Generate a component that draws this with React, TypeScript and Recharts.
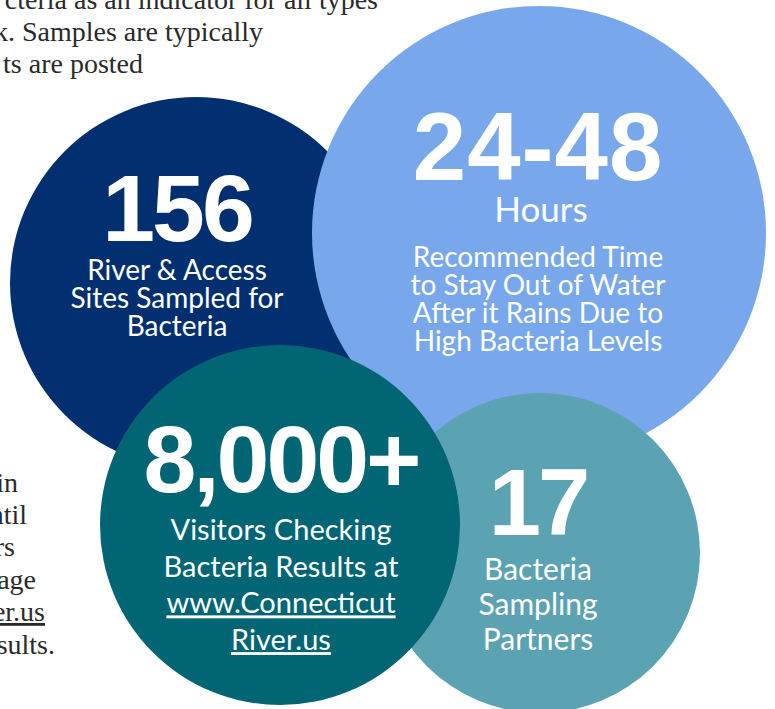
import React from 'react';
import { ScatterChart, Scatter, XAxis, YAxis } from 'recharts';

// bubble stats, in drawing order (back to front)
const stats = ['156', '24-48', '17', '8,000+'];
const units = ['', 'Hours', '', ''];
const captions = [
  ['River & Access', 'Sites Sampled for', 'Bacteria'],
  ['Recommended Time', 'to Stay Out of Water', 'After it Rains Due to', 'High Bacteria Levels'],
  ['Bacteria', 'Sampling', 'Partners'],
  ['Visitors Checking', 'Bacteria Results at', 'www.Connecticut', 'River.us'],
];
const bubbleX = [196, 539, 540, 280];
const bubbleY = [283, 233, 553, 525];
const bubbleR = [186, 227, 160, 180];
const bubbleColors = ['#022f6f', '#78a8eb', '#5ba2b3', '#016574'];
const linkLines = ['www.Connecticut', 'River.us'];

// body copy running behind the bubbles (cut off at the page edge)
const bodyLines = ['cteria as an indicator for all types', 'k. Samples are typically', 'ts are posted',
  'in', 'ntil', 'rs', 'age', 'er.us', 'sults.'];
const bodyEndX = [378, 263, 143, 18, 27, 15, 36, 45, 55];
const bodyBaseY = [9, 41, 73, 492, 524, 556, 589, 621, 654];

// text placement inside each bubble, relative to its centre
const layout = [
  { dx: -19, numY: -42, numSize: 95, numSpacing: -3, capY: -3, capSize: 28, lineH: 28 },
  { dx: -1, numY: -53, numSize: 96, numSpacing: 1, unitY: -11, capY: 34, capSize: 28, lineH: 28 },
  { dx: -2, numY: -18, numSize: 94, numSpacing: -3, capY: 27, capSize: 30, lineH: 35 },
  { dx: 1, numY: -33, numSize: 95, numSpacing: -3, capY: 15, capSize: 29, lineH: 36.7 },
];

const bubbles = stats.map((s, i) => ({
  x: bubbleX[i], y: bubbleY[i], r: bubbleR[i], stat: s, unit: units[i],
  lines: captions[i], color: bubbleColors[i], idx: i,
}));

const body = bodyLines.map((t, i) => ({ x: bodyEndX[i], y: bodyBaseY[i], text: t }));

const capFont = 'Lato, "Open Sans", sans-serif';
const numFont = '"Liberation Sans", Arial, sans-serif';

const renderBubble = (props: any) => {
  const { cx, cy, payload } = props;
  const l = layout[payload.idx];
  const tx = cx + l.dx;
  return (
    <g>
      <circle cx={cx} cy={cy} r={payload.r} fill={payload.color} />
      <text x={tx} y={cy + l.numY} textAnchor="middle" fill="#fff" fontFamily={numFont}
        fontWeight={700} fontSize={l.numSize} letterSpacing={l.numSpacing}>
        {payload.stat}
      </text>
      {payload.unit && (
        <text x={tx + 3} y={cy + l.unitY} textAnchor="middle" fill="#fff" fontFamily={capFont}
          fontSize={35}>
          {payload.unit}
        </text>
      )}
      {payload.lines.map((line: string, j: number) => (
        <text key={j} x={tx} y={cy + l.capY + j * l.lineH} textAnchor="middle" fill="#fff"
          fontFamily={capFont} fontSize={l.capSize}
          style={linkLines.includes(line) ? { textDecoration: 'underline' } : undefined}>
          {line}
        </text>
      ))}
    </g>
  );
};

const renderBody = (props: any) => {
  const { cx, cy, payload } = props;
  return (
    <text x={cx} y={cy} textAnchor="end" fill="#2a2a2a" fontFamily='"Liberation Serif", serif'
      fontSize={28} style={payload.text === 'er.us' ? { textDecoration: 'underline' } : undefined}>
      {payload.text}
    </text>
  );
};

export default function App() {
  return (
    <div style={{ position: 'absolute', left: 0, top: 0, width: 775, height: 709, overflow: 'hidden', background: '#fff' }}>
      <ScatterChart width={775} height={709} margin={{ top: 0, right: 0, bottom: 0, left: 0 }}>
        <XAxis type="number" dataKey="x" domain={[0, 775]} hide />
        <YAxis type="number" dataKey="y" domain={[0, 709]} reversed hide />
        <Scatter data={body} shape={renderBody} isAnimationActive={false} />
        <Scatter data={bubbles} shape={renderBubble} isAnimationActive={false} />
      </ScatterChart>
    </div>
  );
}
